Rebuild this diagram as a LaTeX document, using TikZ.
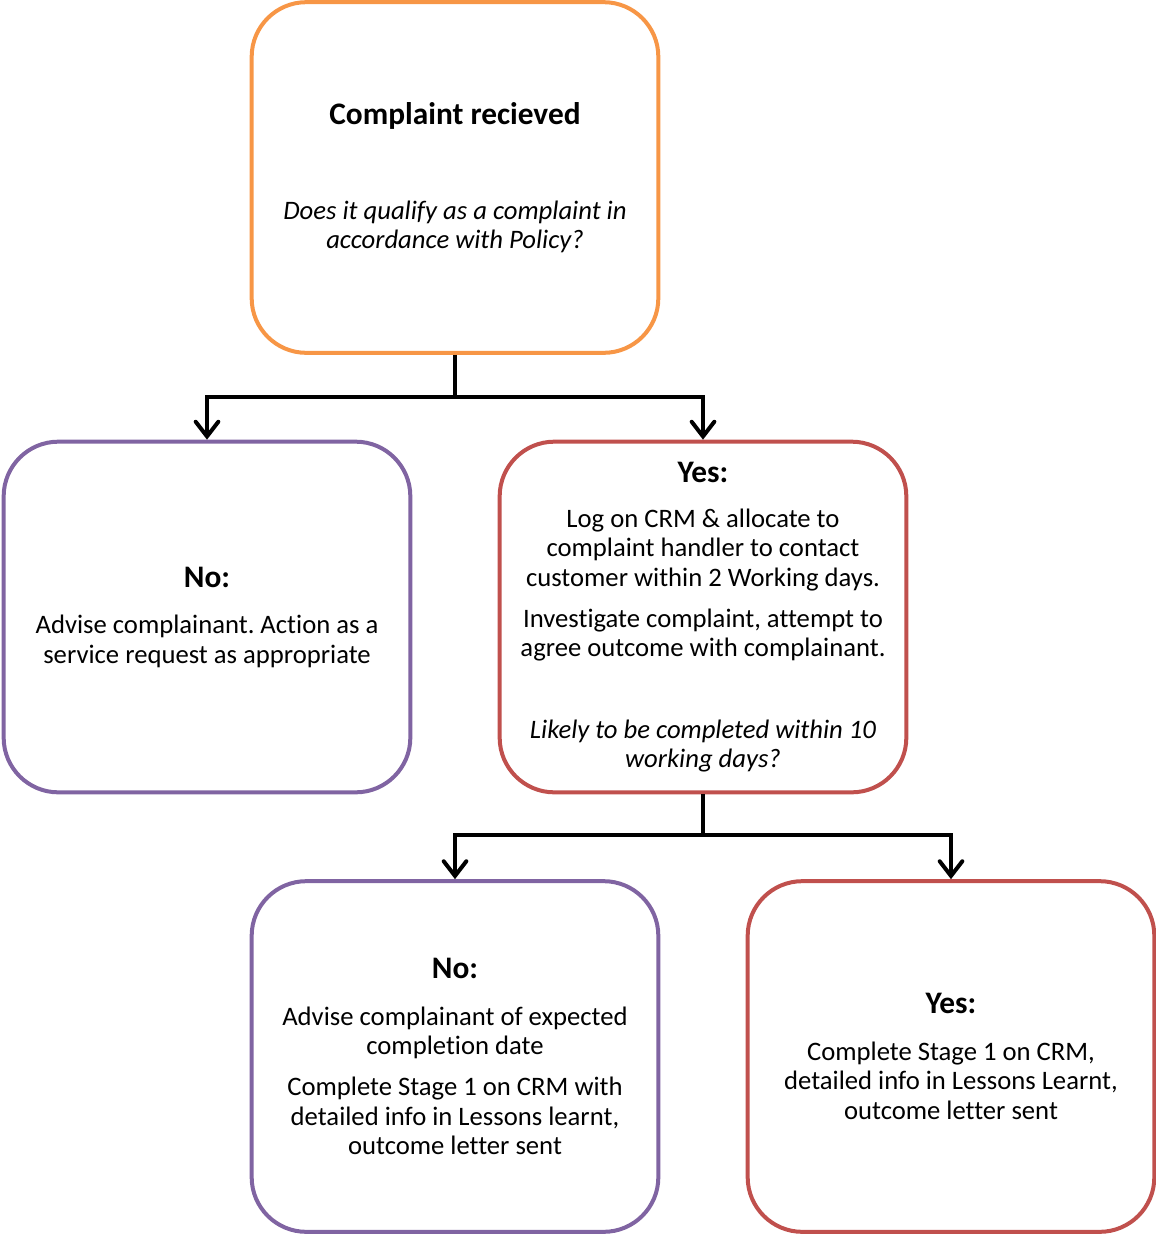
\documentclass[tikz,border=0pt]{standalone}
\usepackage{fontspec}
\setmainfont{Carlito}[Ligatures=NoCommon]
\usetikzlibrary{arrows.meta}
\definecolor{accorange}{HTML}{F79646}
\definecolor{accpurple}{HTML}{8064A2}
\definecolor{accred}{HTML}{C0504D}
\frenchspacing

\begin{document}
\begin{tikzpicture}[x=0.75pt, y=-0.75pt, font=\fontsize{20}{22}\selectfont,
  box/.style={draw, line width=3pt, rounded corners=41pt, minimum width=305pt, minimum height=263pt, align=center, inner sep=0pt},
  conn/.style={line width=3pt},
  arr/.style={conn, -{Straight Barb[length=11pt, width=17pt, line cap=round]}}]
  \useasboundingbox (0,0) rectangle (1156,1236);

  \node[box, accorange] (received) at (455,177.5) {\color{black}{\fontsize{23.5}{24}\selectfont\bfseries Complaint recieved}\\[49pt]
    \color{black}\itshape Does it qualify as a complaint in\\ \color{black}\itshape accordance with Policy?};
  \node[box, accpurple] (notcomplaint) at (207,617) {\color{black}{\fontsize{23.5}{24}\selectfont\bfseries No:}\\[13pt]
    \color{black}Advise complainant. Action as a\\ \color{black}service request as appropriate};
  \node[box, accred] (logged) at (703,617) {\color{black}{\fontsize{23.5}{24}\selectfont\bfseries Yes:}\\[12pt]
    \color{black}Log on CRM \& allocate to\\ \color{black}complaint handler to contact\\ \color{black}customer within 2 Working days.\\[9pt]
    \color{black}Investigate complaint, attempt to\\ \color{black}agree outcome with complainant.\\[39pt]
    \color{black}\itshape Likely to be completed within 10\\ \color{black}\itshape working days?};
  \node[box, accpurple] (extended) at (455,1056.5) {\color{black}{\fontsize{23.5}{24}\selectfont\bfseries No:}\\[13pt]
    \color{black}Advise complainant of expected\\ \color{black}completion date\\[9pt]
    \color{black}Complete Stage 1 on CRM with\\ \color{black}detailed info in Lessons learnt,\\ \color{black}outcome letter sent};
  \node[box, accred] (stageone) at (951,1056.5) {\color{black}{\fontsize{23.5}{24}\selectfont\bfseries Yes:}\\[13pt]
    \color{black}Complete Stage 1 on CRM,\\ \color{black}detailed info in Lessons Learnt,\\ \color{black}outcome letter sent};

  \draw[conn] (received.south) -- ++(0,42) coordinate (split1);
  \draw[arr] (split1) -| (notcomplaint.north);
  \draw[arr] (split1) -| (logged.north);
  \draw[conn] (logged.south) -- ++(0,41) coordinate (split2);
  \draw[arr] (split2) -| (extended.north);
  \draw[arr] (split2) -| (stageone.north);
\end{tikzpicture}
\end{document}
